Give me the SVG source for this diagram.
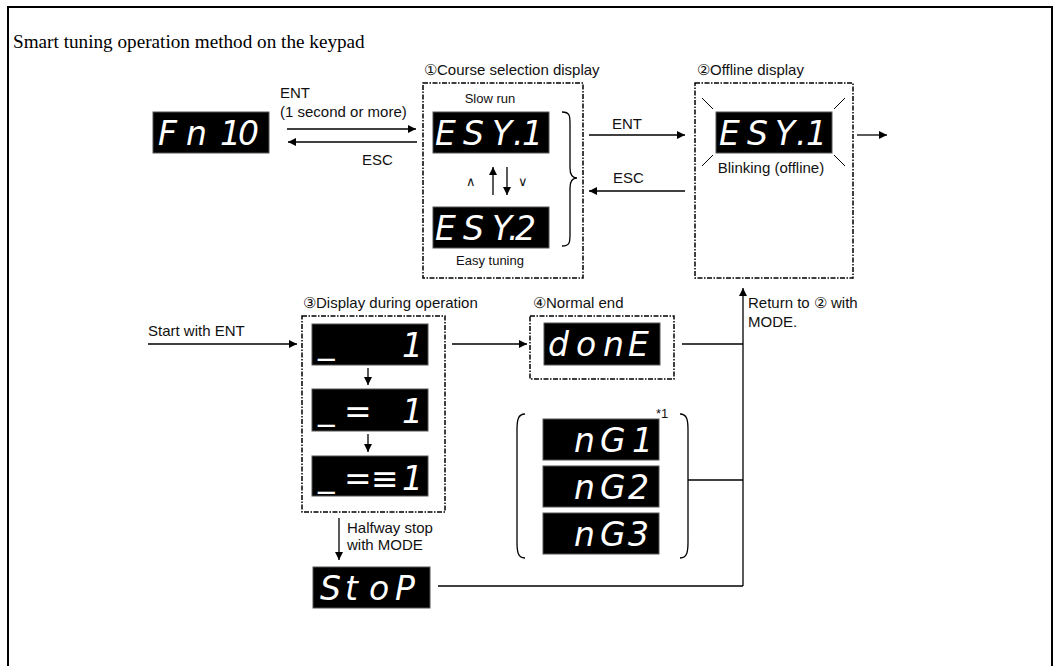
<svg xmlns="http://www.w3.org/2000/svg" width="1058" height="666" viewBox="0 0 1058 666">
<style>
.lbl{font-family:"Liberation Sans",Arial,sans-serif;font-size:15px;fill:#111}
.sm{font-family:"Liberation Sans",Arial,sans-serif;font-size:13px;fill:#111}
.title{font-family:"Liberation Serif","Times New Roman",serif;font-size:19.2px;fill:#000}
.disp{fill:#000;stroke:#555;stroke-width:1}
.seg{font-family:"DejaVu Sans",sans-serif;font-weight:200;font-style:italic;font-size:33px;fill:#fff}
.box{fill:none;stroke:#000;stroke-width:1.5;stroke-dasharray:5 1.5 1.5 1.5}
.ln{fill:none;stroke:#000;stroke-width:1.3}
.arr{fill:none;stroke:#000;stroke-width:1.3;marker-end:url(#ah)}
.ray{stroke:#000;stroke-width:1}
</style>
<defs>
<marker id="ah" viewBox="0 0 10 10" refX="10" refY="5" markerWidth="8" markerHeight="8" markerUnits="userSpaceOnUse" orient="auto">
<path d="M0,0 L10,5 L0,10 z" fill="#000"/>
</marker>
</defs>
<rect x="0" y="0" width="1058" height="666" fill="#fff"/>
<path d="M8,670 L8,7 L1052,7 L1052,670" fill="none" stroke="#000" stroke-width="2"/>
<text class="title" x="13" y="48">Smart tuning operation method on the keypad</text>

<g id="fn10">
<rect class="disp" x="153" y="112" width="116" height="41"/>
<text class="seg" x="158 186 220 238" y="145">Fn10</text>
</g>

<g id="course">
<rect class="box" x="423" y="83" width="160" height="195"/>
<text class="lbl" x="424" y="75">①Course selection display</text>
<text class="sm" x="490" y="103" text-anchor="middle">Slow run</text>
<rect class="disp" x="433" y="112" width="116" height="41"/>
<text class="seg" x="435 463 492 513 522" y="145">ESY.1</text>
<rect class="disp" x="433" y="207" width="116" height="41"/>
<text class="seg" x="435 463 492 508 515" y="240">ESY.2</text>
<text class="sm" x="490" y="265" text-anchor="middle">Easy tuning</text>
<text class="sm" x="471" y="186" text-anchor="middle">∧</text>
<text class="sm" x="523" y="186" text-anchor="middle">∨</text>
<path class="ln" d="M562,112 C570,112 570,116 570,124 L570,168 C570,175 572,178 577,178 C572,178 570,181 570,188 L570,234 C570,242 570,246 562,246"/>
</g>

<g id="offline">
<rect class="box" x="695" y="83" width="158" height="195"/>
<text class="lbl" x="697" y="75">②Offline display</text>
<rect class="disp" x="716" y="112" width="116" height="41"/>
<text class="seg" x="719 747 775 796 806" y="145">ESY.1</text>
<line class="ray" x1="702" y1="98" x2="713" y2="109"/>
<line class="ray" x1="702" y1="166" x2="713" y2="155"/>
<line class="ray" x1="834" y1="109" x2="845" y2="98"/>
<line class="ray" x1="834" y1="155" x2="845" y2="166"/>
<text class="lbl" x="771" y="173" text-anchor="middle">Blinking (offline)</text>
</g>

<g id="operation">
<rect class="box" x="302" y="316" width="143" height="196"/>
<text class="lbl" x="303" y="308">③Display during operation</text>
<rect class="disp" x="312" y="324" width="116" height="41"/>
<text class="seg" x="318" y="353">_</text>
<text class="seg" x="402" y="357">1</text>
<rect class="disp" x="312" y="389" width="116" height="42"/>
<text class="seg" x="318" y="419">_</text>
<text class="seg" x="344" y="423">=</text>
<text class="seg" x="402" y="423">1</text>
<rect class="disp" x="312" y="456" width="116" height="40"/>
<text class="seg" x="318" y="486">_</text>
<text class="seg" x="344" y="490">=</text>
<text class="seg" x="371" y="490">≡</text>
<text class="seg" x="402" y="490">1</text>
</g>

<g id="normalend">
<rect class="box" x="530" y="316" width="144" height="63"/>
<text class="lbl" x="533" y="308">④Normal end</text>
<rect class="disp" x="544" y="323" width="116" height="42"/>
<text class="seg" x="548 576 603 628" y="356">donE</text>
</g>

<g id="errors">
<path class="ln" d="M525,414 C518,414 517,420 517,430 L517,542 C517,552 518,558 525,558"/>
<path class="ln" d="M680,414 C687,414 688,420 688,430 L688,542 C688,552 687,558 680,558"/>
<text class="sm" x="656" y="418">*1</text>
<rect class="disp" x="543" y="419" width="116" height="41"/>
<text class="seg" x="574 600 632" y="452">nG1</text>
<rect class="disp" x="543" y="466" width="116" height="41"/>
<text class="seg" x="574 600 628" y="499">nG2</text>
<rect class="disp" x="543" y="513" width="116" height="41"/>
<text class="seg" x="574 600 628" y="546">nG3</text>
</g>

<g id="stop">
<rect class="disp" x="313" y="567" width="117" height="41"/>
<text class="seg" x="320 345 369 395" y="600">StoP</text>
</g>

<g id="labels">
<text class="lbl" x="280" y="98">ENT</text>
<text class="lbl" x="280" y="117">(1 second or more)</text>
<text class="lbl" x="362" y="165">ESC</text>
<text class="lbl" x="612" y="129">ENT</text>
<text class="lbl" x="613" y="183">ESC</text>
<text class="lbl" x="148" y="336">Start with ENT</text>
<text class="lbl" x="748" y="308">Return to ② with</text>
<text class="lbl" x="748" y="327">MODE.</text>
<text class="lbl" x="347" y="533">Halfway stop</text>
<text class="lbl" x="347" y="550">with MODE</text>
</g>

<g id="connectors">
<line class="arr" x1="287" y1="129" x2="416" y2="129"/>
<line class="arr" x1="417" y1="142" x2="288" y2="142"/>
<line class="arr" x1="493" y1="195" x2="493" y2="167"/>
<line class="arr" x1="507" y1="167" x2="507" y2="195"/>
<line class="arr" x1="589" y1="135" x2="685" y2="135"/>
<line class="arr" x1="685" y1="191" x2="589" y2="191"/>
<line class="arr" x1="857" y1="135" x2="887" y2="135"/>
<line class="arr" x1="148" y1="344" x2="297" y2="344"/>
<line class="arr" x1="452" y1="344" x2="527" y2="344"/>
<line class="arr" x1="368" y1="368" x2="368" y2="385"/>
<line class="arr" x1="368" y1="434" x2="368" y2="452"/>
<line class="arr" x1="339" y1="518" x2="339" y2="560"/>
<line class="ln" x1="682" y1="344" x2="743" y2="344"/>
<line class="ln" x1="688" y1="480" x2="743" y2="480"/>
<line class="ln" x1="438" y1="586" x2="743" y2="586"/>
<line class="arr" x1="743" y1="586" x2="743" y2="288"/>
</g>
</svg>
